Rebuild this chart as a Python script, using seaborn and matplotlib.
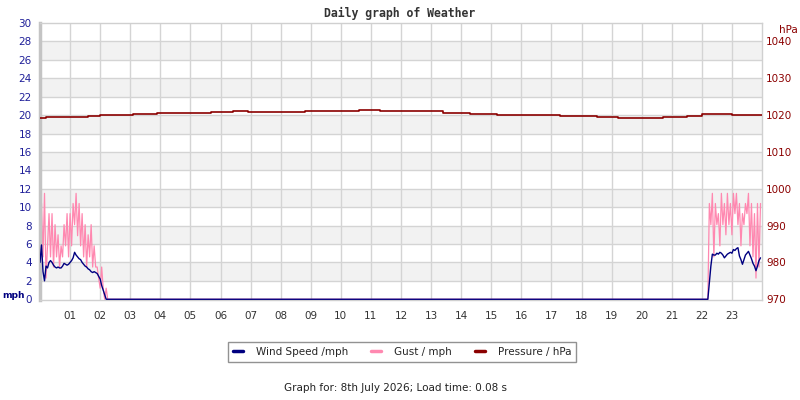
import numpy as np
import pandas as pd
import matplotlib
matplotlib.use("Agg")
import matplotlib.pyplot as plt
from matplotlib.lines import Line2D
import seaborn as sns

# ---------------- data ----------------
am_hours = np.round(np.arange(0.0, 2.26, 0.05), 2)
wind_am = [4.0, 5.9, 3.0, 2.0, 3.6, 3.4, 4.0, 4.2, 4.0, 3.7,
           3.5, 3.4, 3.5, 3.4, 3.4, 3.6, 3.9, 3.8, 3.7, 3.8,
           4.0, 4.2, 4.5, 5.1, 4.8, 4.6, 4.4, 4.3, 4.0, 3.8,
           3.6, 3.5, 3.3, 3.2, 3.0, 2.9, 3.0, 2.9, 2.8, 2.5,
           2.2, 1.5, 1.0, 0.5, 0.0, 0.0]
gust_am = [7.0, 10.4, 4.6, 11.5, 2.3, 5.8, 9.3, 4.6, 9.3, 3.5,
           8.1, 4.6, 7.0, 3.5, 5.8, 4.6, 8.1, 5.8, 9.3, 4.6,
           9.3, 5.8, 10.4, 8.1, 11.5, 6.9, 10.4, 5.8, 9.3, 4.6,
           8.1, 3.5, 7.0, 4.6, 8.1, 3.5, 5.8, 3.5, 3.5, 2.3,
           1.2, 3.5, 1.2, 0.0, 1.2, 0.0]

calm_hours = [2.30, 22.10]
calm_wind = [0.0, 0.0]
calm_gust = [0.0, 0.0]

pm_hours = np.round(np.arange(22.15, 23.96, 0.05), 2)
wind_pm = [0.0, 0.0, 1.8, 3.6, 4.9, 4.8, 4.8, 5.0, 4.9, 5.1,
           5.0, 4.8, 4.5, 4.7, 4.9, 5.0, 5.1, 5.0, 5.4, 5.3,
           5.5, 5.6, 4.7, 4.3, 3.8, 4.3, 4.8, 5.0, 5.2, 4.8,
           4.4, 3.9, 3.6, 3.1, 3.6, 4.2, 4.5]
gust_pm = [0.0, 0.0, 10.4, 8.1, 11.5, 4.6, 10.4, 8.1, 9.3, 5.8,
           11.5, 8.1, 10.4, 7.0, 11.5, 8.1, 10.4, 7.0, 11.5, 9.3,
           11.5, 8.1, 10.4, 5.8, 9.3, 8.1, 10.4, 9.3, 11.5, 5.8,
           10.4, 4.6, 9.3, 2.3, 10.4, 3.5, 10.4]

pressure_hours = [0, 0.2, 1.6, 2.0, 3.1, 3.9, 5.7, 6.4, 6.9, 8.8, 10.6, 11.3,
                  12.3, 13.4, 14.3, 15.2, 17.3, 18.5, 19.2, 20.7, 21.5, 22.0,
                  23.0, 24.0]
pressure_hpa = [1019.2, 1019.5, 1019.7, 1020.0, 1020.3, 1020.5, 1020.8, 1021.1,
                1020.9, 1021.2, 1021.3, 1021.2, 1021.0, 1020.7, 1020.4, 1020.0,
                1019.8, 1019.5, 1019.3, 1019.5, 1019.7, 1020.2, 1020.0, 1020.0]

hour_labels = ["%02d" % h for h in range(1, 24)]
mph_ticks = list(range(0, 31, 2))
hpa_ticks = [970, 980, 990, 1000, 1010, 1020, 1030, 1040]

title = "Daily graph of Weather"
footer = "Graph for: 8th July 2026; Load time: 0.08 s"

# ---------------- frames ----------------
wind_df = pd.DataFrame({
    "hour": np.concatenate([am_hours, calm_hours, pm_hours]),
    "wind": np.concatenate([wind_am, calm_wind, wind_pm]),
    "gust": np.concatenate([gust_am, calm_gust, gust_pm]),
})
press_df = pd.DataFrame({"hour": pressure_hours, "hpa": pressure_hpa})

# ---------------- style ----------------
sns.set_theme(style="white")
plt.rcParams["font.family"] = ["DejaVu Sans"]

NAVY = "#000080"
PINK = "#ff88b0"
DRED = "#8b0000"
TICK_NAVY = "#1f1f99"
GRID = "#d4d4d4"
BAND = "#f2f2f2"

fig = plt.figure(figsize=(8, 4), dpi=100)
ax = fig.add_axes([0.05, 0.25, 0.9025, 0.6925])
ax.set_facecolor("white")

for lo in range(2, 30, 4):
    ax.axhspan(lo, lo + 2, color=BAND, zorder=0, lw=0)
for y in mph_ticks[1:-1]:
    ax.axhline(y, color=GRID, lw=1, zorder=0.5)
for h in range(1, 24):
    ax.axvline(h, color=GRID, lw=1, zorder=0.5)

sns.lineplot(data=wind_df, x="hour", y="gust", ax=ax, color=PINK, lw=0.9,
             estimator=None, sort=False, zorder=2)
sns.lineplot(data=wind_df, x="hour", y="wind", ax=ax, color=NAVY, lw=1.0,
             estimator=None, sort=False, zorder=3)

ax.set_xlim(0, 24)
ax.set_ylim(-0.08, 30)
ax.set_yticks(mph_ticks)
ax.set_yticklabels([str(t) for t in mph_ticks])
ax.set_xticks(range(1, 24))
ax.set_xticklabels(hour_labels)
ax.set_xlabel("")
ax.set_ylabel("")
ax.tick_params(axis="y", colors=TICK_NAVY, labelsize=7.5, length=0, pad=6)
ax.tick_params(axis="x", colors="#333333", labelsize=7.5, length=0, pad=8)
for s in ["top", "right", "bottom"]:
    ax.spines[s].set_color("#d0d0d0")
    ax.spines[s].set_linewidth(1)
ax.spines["left"].set_color("#c4c4c4")
ax.spines["left"].set_linewidth(2.5)

ax2 = ax.twinx()
sns.lineplot(data=press_df, x="hour", y="hpa", ax=ax2, color=DRED, lw=1.2,
             drawstyle="steps-post", estimator=None, sort=False)
ax2.set_ylim(970 - 0.2, 1045)
ax2.set_yticks(hpa_ticks)
ax2.set_yticklabels([str(t) for t in hpa_ticks])
ax2.set_ylabel("")
ax2.tick_params(axis="y", colors=DRED, labelsize=7.5, length=0, pad=3)
for s in ax2.spines.values():
    s.set_visible(False)

fig.text(0.5, 0.967, title, ha="center", va="center", fontsize=8.3,
         fontweight="bold", family="DejaVu Sans Mono", color="#333333")
fig.text(0.003, 0.262, "mph", ha="left", va="center", fontsize=6.6,
         fontweight="bold", color=NAVY)
fig.text(0.974, 0.925, "hPa", ha="left", va="center", fontsize=7.5,
         color=DRED)

handles = [Line2D([], [], color=NAVY, lw=2.5),
           Line2D([], [], color=PINK, lw=2.5),
           Line2D([], [], color=DRED, lw=2.5)]
leg = fig.legend(handles, ["Wind Speed /mph", "Gust / mph", "Pressure / hPa"],
                 loc="center", bbox_to_anchor=(0.5025, 0.12), ncol=3,
                 fontsize=7.5, frameon=True, fancybox=False, handlelength=1.0,
                 handletextpad=1.2, columnspacing=2.2, borderpad=0.45)
leg.get_frame().set_edgecolor("#777777")
leg.get_frame().set_linewidth(1)

fig.text(0.495, 0.03, footer, ha="center", va="center", fontsize=7.5,
         color="#222222")

fig.savefig("out.png", dpi=100)
